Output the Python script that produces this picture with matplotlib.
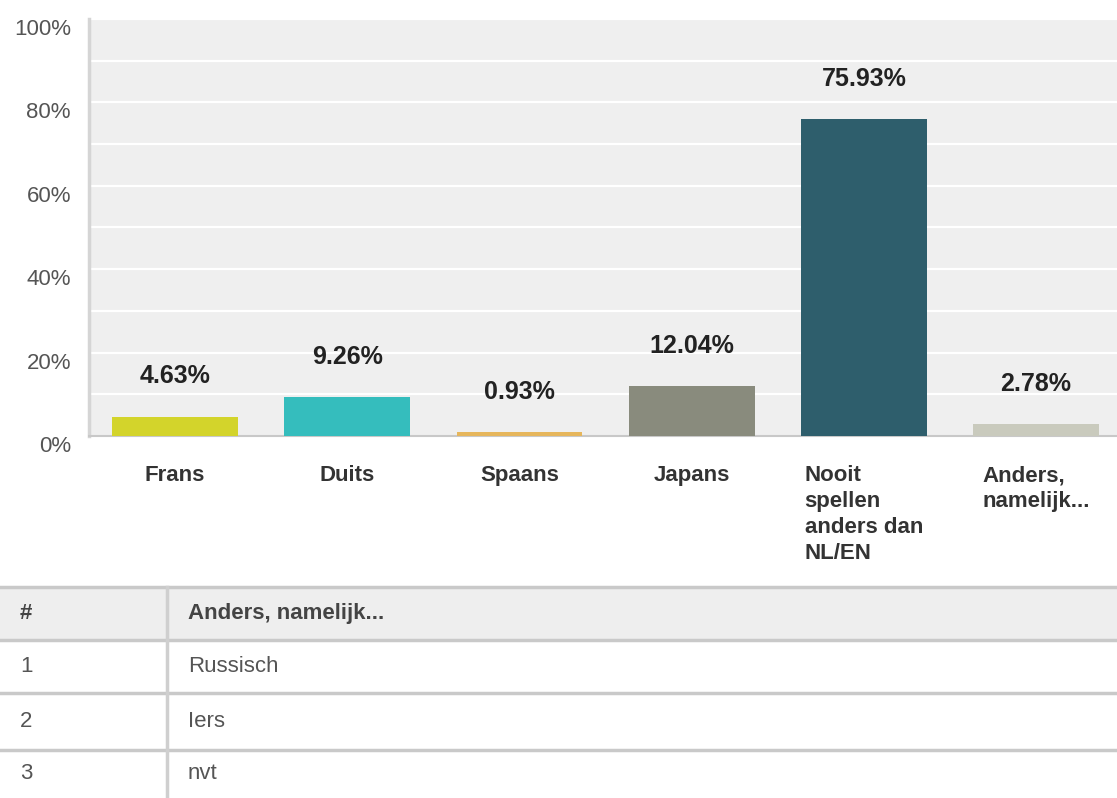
import matplotlib.pyplot as plt
from matplotlib.patches import Rectangle

plt.rcParams["font.family"] = ["Liberation Sans", "DejaVu Sans"]

# data
categories = ["Frans", "Duits", "Spaans", "Japans",
              "Nooit\nspellen\nanders dan\nNL/EN", "Anders,\nnamelijk..."]
percentages = [4.63, 9.26, 0.93, 12.04, 75.93, 2.78]
bar_colors = ["#d3d42b", "#35bdbd", "#e6b65c", "#898b7d", "#2e5e6c", "#c9cabd"]

table_header = ["#", "Anders, namelijk..."]
table_ids = ["1", "2", "3"]
table_answers = ["Russisch", "Iers", "nvt"]

W, H = 1117, 798
fig = plt.figure(figsize=(W / 100, H / 100), dpi=100)

# ---------------- bar chart ----------------
ax = fig.add_axes([89 / W, (H - 436) / H, (W - 89) / W, (436 - 19) / H])
ax.set_facecolor("#efefef")
x = list(range(len(categories)))
bars = ax.bar(x, percentages, width=0.73, color=bar_colors, zorder=3)
ax.set_xlim(-0.5, 5.47)
ax.set_ylim(0, 100)

for yv in range(10, 101, 10):
    ax.axhline(yv, color="white", lw=1.6, zorder=1)

ax.set_yticks(range(0, 101, 20))
ax.set_yticklabels([f"{v}%" for v in range(0, 101, 20)])
ax.tick_params(axis="y", length=0, pad=13, labelsize=16, labelcolor="#555555")
for lbl in ax.get_yticklabels():
    lbl.set_verticalalignment("top")
ax.set_xticks([])

for side in ["top", "right"]:
    ax.spines[side].set_visible(False)
ax.spines["left"].set_color("#d5d5d5")
ax.spines["left"].set_linewidth(2.5)
ax.spines["bottom"].set_color("#c8c8c8")
ax.spines["bottom"].set_linewidth(1.5)

for bar, value in zip(bars, percentages):
    ax.annotate(
        f"{value:.2f}%",
        (bar.get_x() + bar.get_width() / 2, bar.get_height()),
        xytext=(0, 29), textcoords="offset points",
        ha="center", va="center", fontsize=18, fontweight="bold",
        color="#222222",
    )

for xi, cat in zip(x, categories):
    ax.annotate(
        cat, (xi, 0), xytext=(0, -21), textcoords="offset points",
        ha="center", va="top", multialignment="left",
        fontsize=16, fontweight="bold", color="#333333", linespacing=1.3,
    )

# ---------------- table ----------------
tab = fig.add_axes([0, 0, 1, (H - 584) / H])
tab.set_xlim(0, W)
tab.set_ylim(H, 584)
tab.axis("off")

row_edges = [587, 640, 693, 750, 800]
tab.add_patch(Rectangle((0, row_edges[0]), W, row_edges[1] - row_edges[0],
                        color="#eeeeee", zorder=1))
for ye in row_edges[:-1]:
    tab.plot([0, W], [ye, ye], color="#c9c9c9", lw=2.5, zorder=2)
tab.plot([167, 167], [row_edges[0], H], color="#cfcfcf", lw=2.5, zorder=2)

tab.text(20, (row_edges[0] + row_edges[1]) / 2, table_header[0], va="center",
         fontsize=16, fontweight="bold", color="#444444")
tab.text(188, (row_edges[0] + row_edges[1]) / 2, table_header[1], va="center",
         fontsize=16, fontweight="bold", color="#444444")
for i, (rid, ans) in enumerate(zip(table_ids, table_answers)):
    yc = (row_edges[i + 1] + min(row_edges[i + 2], H)) / 2
    tab.text(20, yc, rid, va="center", fontsize=16, color="#555555")
    tab.text(188, yc, ans, va="center", fontsize=16, color="#555555")

fig.savefig("out.png", dpi=100)
